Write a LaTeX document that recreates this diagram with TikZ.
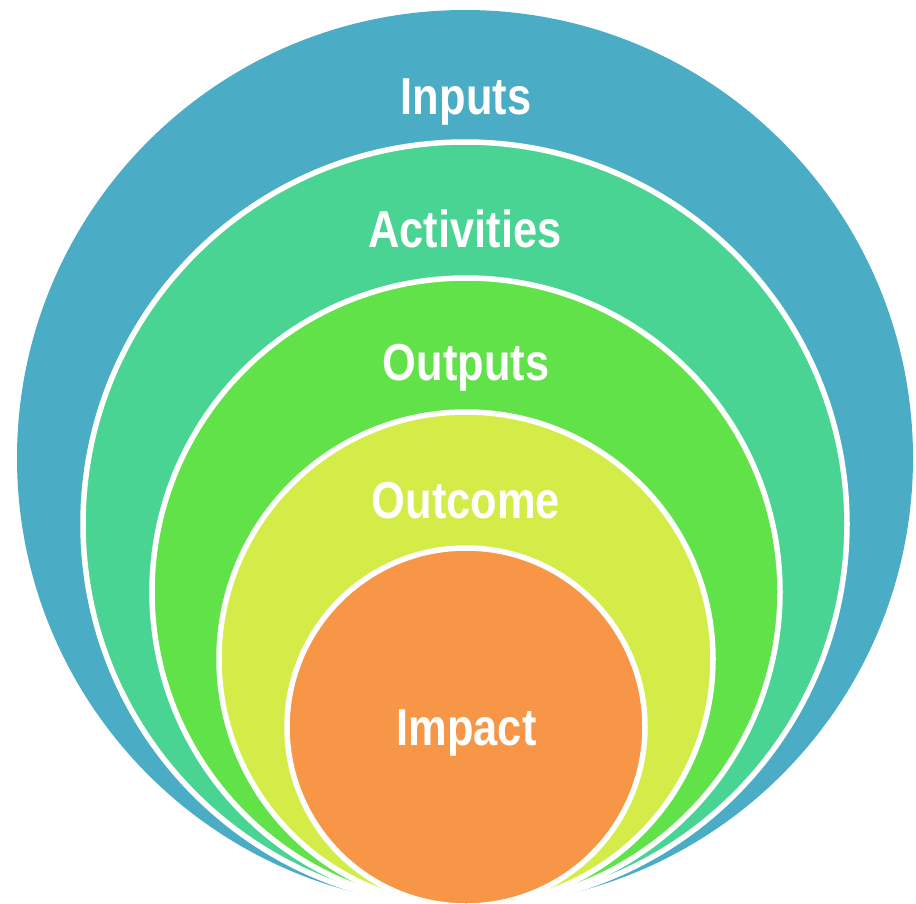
\documentclass[tikz,border=0pt]{standalone}
\usepackage{fontspec}
\newfontfamily\lblfont{Liberation Sans}[FakeStretch=0.835]
\definecolor{cInputs}{HTML}{4BACC6}
\definecolor{cActiv}{HTML}{49D493}
\definecolor{cOutputs}{HTML}{61E249}
\definecolor{cOutcome}{HTML}{D4EC47}
\definecolor{cImpact}{HTML}{F79646}
\tikzset{
  ring/.style={draw=white, line width=5.5pt},
  lbl/.style={anchor=base, text=white, inner sep=0pt, font=\lblfont\bfseries\fontsize{52}{60}\selectfont}
}
\begin{document}
\begin{tikzpicture}[x=1pt,y=-1pt]
\useasboundingbox (0,0) rectangle (916,903);
\clip (0,0) rectangle (916,903);
\coordinate (cIn) at (465,458);
\coordinate (cAc) at (465,524);
\coordinate (cOp) at (466,592);
\coordinate (cOc) at (466,659);
\coordinate (cIm) at (466,727);
\fill[cInputs] (cIn) circle[radius=448pt];
\filldraw[ring, fill=cActiv] (cAc) circle[radius=382pt];
\filldraw[ring, fill=cOutputs] (cOp) circle[radius=314pt];
\filldraw[ring, fill=cOutcome] (cOc) circle[radius=247pt];
\filldraw[ring, fill=cImpact] (cIm) circle[radius=179pt];
\node[lbl] (tIn) at (466,114) {Inputs};
\node[lbl] (tAc) at (465,247) {Activities};
\node[lbl] (tOp) at (466,380) {Outputs};
\node[lbl] (tOc) at (466,518) {Outcome};
\node[lbl] (tIm) at (466.5,745) {Impact};
\end{tikzpicture}
\end{document}
